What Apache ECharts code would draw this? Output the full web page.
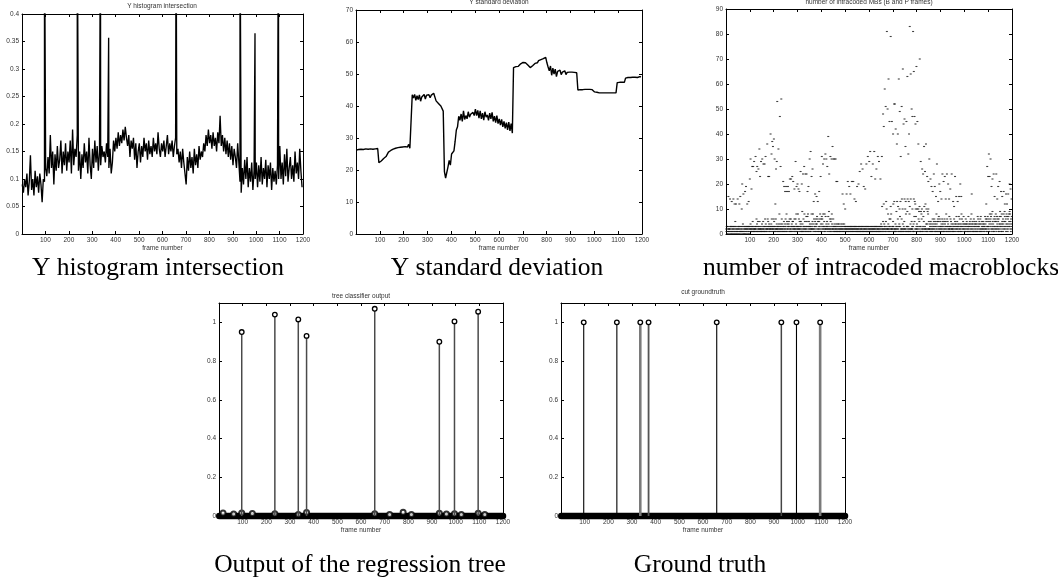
<!DOCTYPE html>
<html><head><meta charset="utf-8">
<script src="https://cdn.jsdelivr.net/npm/echarts@6/dist/echarts.min.js"></script>
<style>html,body{margin:0;padding:0;background:#fff}#c{width:1058px;height:579px}</style>
</head><body><div id="c"></div>
<script>
// ---------------- data ----------------
const cutFrames = [96, 236, 335, 370, 658, 931, 995, 1095];
const sampleStep = 5; // values below are read every 5 frames, starting at frame 1

const histValues = [
 0.09,0.075,0.10,0.085,0.11,0.07,0.095,0.143,0.08,0.10,0.07,0.115,0.085,0.105,0.075,0.11,0.09,0.058,0.10,0.095,
 0.12,0.105,0.14,0.11,0.18,0.12,0.15,0.09,0.145,0.115,0.16,0.12,0.135,0.17,0.11,0.15,0.125,0.165,0.115,0.15,
 0.13,0.17,0.11,0.19,0.125,0.155,0.14,0.18,0.115,0.15,0.10,0.145,0.12,0.165,0.13,0.15,0.11,0.175,0.125,0.10,
 0.155,0.12,0.17,0.13,0.16,0.115,0.15,0.125,0.16,0.14,0.15,0.13,0.165,0.14,0.12,0.155,0.11,0.13,0.17,0.15,
 0.175,0.155,0.185,0.16,0.18,0.165,0.19,0.17,0.195,0.175,0.16,0.18,0.14,0.17,0.155,0.175,0.135,0.165,0.12,0.15,
 0.165,0.13,0.16,0.14,0.175,0.15,0.165,0.135,0.17,0.145,0.16,0.14,0.175,0.15,0.165,0.145,0.185,0.155,0.14,0.165,
 0.15,0.17,0.14,0.16,0.18,0.145,0.165,0.15,0.17,0.14,0.16,0.175,0.145,0.155,0.13,0.15,0.12,0.155,0.13,0.11,
 0.09,0.14,0.115,0.15,0.12,0.14,0.11,0.155,0.125,0.145,0.12,0.16,0.135,0.15,0.14,0.165,0.15,0.18,0.16,0.19,
 0.165,0.18,0.155,0.185,0.16,0.175,0.15,0.185,0.165,0.215,0.16,0.18,0.15,0.175,0.145,0.17,0.14,0.165,0.135,0.16,
 0.125,0.155,0.14,0.12,0.165,0.13,0.095,0.075,0.12,0.09,0.135,0.10,0.14,0.085,0.12,0.095,0.13,0.08,0.115,0.10,
 0.13,0.085,0.125,0.095,0.14,0.09,0.12,0.10,0.135,0.085,0.125,0.10,0.13,0.08,0.12,0.095,0.115,0.09,0.125,0.10,
 0.16,0.10,0.13,0.09,0.145,0.105,0.155,0.095,0.12,0.14,0.10,0.125,0.095,0.15,0.11,0.13,0.10,0.155,0.115,0.085
];
const histCutPeaks = [0.6, 0.6, 0.6, 0.357, 0.6, 0.6, 0.365, 0.6];

const stdValues = [
 26.2,26.8,26.4,26.9,26.5,26.8,26.4,27,26.6,26.9,26.5,26.8,26.6,26.9,26.5,26.8,26.6,26.9,26.7,22.3,
 22.4,22.8,23.2,23.6,24.0,24.2,24.5,25.6,25.9,26.1,26.3,26.5,26.6,26.8,26.7,27.0,26.8,27.1,26.9,27.2,
 27.0,27.3,26.9,27.2,28.0,26.8,26.3,43.5,42.5,43.6,41.8,43.2,42.0,43.5,41.5,42.8,42.3,43.6,42.2,43.4,
 43.0,43.5,42.6,43.4,43.2,44.0,43.6,41.6,41.4,40.8,40.6,40.0,40.4,38.4,19.5,17.5,17.0,21.0,23.0,21.5,
 25.0,24.5,26.0,29.0,32.5,33.5,36.8,35.5,37.5,35.2,38.5,35.8,37.0,36.0,38.2,36.5,37.4,36.8,38.0,37.0,
 39.0,37.0,38.6,36.2,38.5,36.0,37.8,35.6,38.2,36.5,37.2,35.5,37.8,36.0,38.0,35.2,36.8,34.8,37.0,34.5,
 36.0,34.0,35.8,33.5,35.2,33.0,34.8,32.5,35.0,32.2,34.5,31.5,52.0,52.2,52.3,52.6,52.4,53.0,53.2,53.5,
 53.6,53.4,53.5,53.0,52.8,52.4,52.0,52.3,52.6,52.9,53.3,53.8,53.5,54.2,53.8,54.5,53.9,54.8,54.2,55.2,
 53.5,52.2,51.0,52.5,49.6,51.8,50.0,51.5,49.2,50.8,50.2,51.2,49.8,50.6,50.0,51.0,49.8,50.5,50.2,50.6,
 50.0,50.6,50.3,50.5,50.2,50.4,45.0,45.2,45.1,45.2,45.1,45.3,45.2,45.1,45.2,45.3,45.2,45.3,45.1,44.8,
 44.4,44.2,44.3,44.2,44.1,44.2,44.1,44.2,44.1,44.2,44.1,44.2,44.1,44.2,44.1,44.2,44.1,44.2,44.1,47.3,
 47.3,47.4,47.3,47.4,47.5,47.4,48.7,48.8,48.9,49.1,48.9,49.2,49.0,48.8,49.0,49.1,48.9,49.0,49.2,49.1
];

// intracoded MBs: one character per frame (base-36 digit = value), frames 1..1200
const mbLowRows = [
 "2130312031 2120213203 1302130213 2031203152 0312012130 2132031210 3121302131 4021302130 2213021320 2313021302",
 "3241213213 2531212132 1223312614 3125132213 5212132211 4132251213 3126134213 2122635231 4213221324 3612232316",
 "2513312261 2342213132 2418312234 1236214213 3251132426 3118254123 2345136212 1632143152 5321326132 2614832132",
 "3823162253 1245312119 4213612382 5132127351 3728131532 2413312284 2352812462 3135126431 4726152132 5163821416",
 "2736412823 3518212732 4235132274 1932261251 3628412236 2131423121 3241213142 1324112312 2143122314 1232141323",
 "2312132123 1321231213 2132312132 1231213213 2312132312 1213231213 3121321231 2313121321 1232131213 2131231312",
 "2131231213 2312132123 1213231213 3121321231 2131231213 4321b23152 2c14323211 5d2a321228 4123162316 b281223213",
 "5c321d2121 4123921d32 6b21134a17 3d12126e21 a4122315e2 2a1d812313 9e2131d218 b214e12252 3a21314e17 5d2c1a7232",
 "4a2131a629 5b31123918 6a21213725 9b1232c214 a2141928a2 5214232151 4132216143 2526314152 3184215163 5271216352",
 "3124136251 4321156243 2518312635 1432127231 3625143221 2413126314 5231427325 1342137142 6231413826 3142537241",
 "2134162435 1423127314 3251436218 4325141236 1534214315 2413172634 3152416271 4235123425 1342137246 2516312735",
 "3621418536 2748123952 4163127536 2851237462 3516214739 4273118452 3614825397 2536148273 4162738549 3825164273"
];
const mbHigh = [
 [10,15],[17,14],[24,13],[31,14],[36,12],[42,12],[49,14],[56,12],[60,15],[66,10],[68,20],[73,16],[80,17],[84,19],[89,12],[95,13],
 [100,22],[103,30],[107,18],[110,27],[114,27],[118,29],[124,31],[128,25],[131,27],[136,26],[140,34],[143,23],[147,29],[152,30],
 [157,28],[162,28],[166,31],[173,36],[177,23],[181,23],[187,40],[191,32],[194,37],[197,35],[201,38],[204,30],[207,12],[210,26],
 [213,29],[215,53],[220,34],[226,47],[229,27],[232,54],
 [240,21],[244,19],[248,17],[252,19],[256,17],[260,19],[264,17],[268,22],[273,22],[278,23],[282,21],[287,18],[292,29],[296,19],
 [300,20],[304,18],[308,17],[313,25],[318,20],[323,24],[328,27],[333,24],[338,24],[342,17],[346,19],[351,30],[355,33],[359,23],
 [363,26],[368,13],[374,16],[380,15],[385,13],[391,17],[397,23],[402,31],[407,28],[412,30],[417,32],[421,30],[425,27],[429,39],
 [433,24],[438,31],[443,30],[447,35],[451,30],[455,30],[460,30],[463,21],[467,21],
 [489,16],[494,12],[500,10],[506,16],[511,21],[517,19],[522,16],[528,21],[534,21],[539,14],[545,13],[550,19],[556,20],[561,25],
 [567,28],[573,26],[578,19],[584,18],[589,28],[595,31],[601,29],[605,33],[610,23],[616,28],[622,33],[626,22],[631,26],[637,31],
 [642,29],[648,22],[654,31],
 [659,48],[662,43],[666,58],[670,51],[675,81],[678,50],[682,62],[686,45],[691,79],[696,45],[701,40],[705,52],[709,52],[712,42],
 [717,36],[721,40],[725,62],[729,49],[733,31],[737,51],[742,66],[745,44],[749,46],[753,35],[757,45],[761,63],[765,32],[768,40],
 [771,83],[775,64],[779,50],[782,47],[785,81],[788,65],[791,47],[795,44],[799,67],[803,45],[807,36],[813,70],[817,29],[823,26],
 [827,24],[831,35],[835,25],[839,36],[844,23],[849,21],[853,30],[858,22],[862,19],[867,17],[872,24],[876,19],[881,15],[885,28],
 [890,13],[895,20],[899,17],[904,14],[908,24],[913,21],[918,23],[922,14],[927,24],[932,20],[936,14],[941,18],[947,24],[953,13],
 [957,11],[961,23],[966,15],[972,13],[978,15],[983,20],[987,15],
 [1031,16],[1092,12],[1096,27],[1100,23],[1103,32],[1106,23],[1110,30],[1114,19],[1118,22],[1123,24],[1127,15],[1134,24],
 [1138,14],[1142,19],[1148,21],[1154,17],[1159,15],[1165,17],[1170,12],[1175,16],[1179,12],[1184,16],[1190,20],[1194,18],[1198,14]
];

const treeCutValues = [0.95, 1.04, 1.015, 0.93, 1.07, 0.9, 1.005, 1.055];
const treeSmall = [[17,0.015],[62,0.01],[96,0.015],[141,0.013],[236,0.012],[335,0.008],[370,0.018],[658,0.012],
  [721,0.008],[778,0.02],[813,0.008],[931,0.014],[961,0.01],[995,0.012],[1024,0.008],[1095,0.014],[1123,0.008]];
const truthValues = [1, 1, 1, 1, 1, 1, 1, 1];
const zeroFrames = [1, 1200]; // all other frames are 0

const titles = ['Y histogram intersection', 'Y standard deviation', 'number of intracoded MBs (B and P frames)',
  'tree classifier output', 'cut groundtruth'];
const captions = ['Y histogram intersection', 'Y standard deviation', 'number of intracoded macroblocks',
  'Output of the regression tree', 'Ground truth'];
const xLabel = 'frame number';

// ---------------- build series data ----------------
const histData = histValues.map((v, i) => [1 + i * sampleStep, v])
  .concat(cutFrames.map((f, i) => [f, histCutPeaks[i]]))
  .sort((a, b) => a[0] - b[0]);
const stdData = stdValues.map((v, i) => [1 + i * sampleStep, v]);
const mbLow = mbLowRows.join('').replace(/ /g, '');
const mbData = [];
for (let i = 0; i < mbLow.length; i++) mbData.push([i + 1, parseInt(mbLow[i], 36)]);
mbHigh.forEach(p => mbData.push(p));
const treeStems = cutFrames.map((f, i) => [f, treeCutValues[i]]);
const truthStems = cutFrames.map((f, i) => [f, truthValues[i]]);
const zeroLine = zeroFrames.map(f => [f, 0]);

// ---------------- layout ----------------
const grids = [
  {left: 22, top: 14, width: 281, height: 220},
  {left: 356, top: 10, width: 286, height: 224},
  {left: 726, top: 9, width: 286, height: 225},
  {left: 219, top: 303, width: 284, height: 213},
  {left: 561, top: 303, width: 284, height: 213}
];
const yCfg = [
  {max: 0.4, interval: 0.05, fmt: v => String(+v.toFixed(2))},
  {max: 70, interval: 10, fmt: v => String(v)},
  {max: 90, interval: 10, fmt: v => String(v)},
  {max: 1.1, interval: 0.2, fmt: v => v > 1.05 ? '' : String(+v.toFixed(1))},
  {max: 1.1, interval: 0.2, fmt: v => v > 1.05 ? '' : String(+v.toFixed(1))}
];
const tickFont = 'Liberation Sans';
const axisLineStyle = {color: '#000', width: 1};
const xAxes = [], yAxes = [];
grids.forEach((g, i) => {
  xAxes.push({type: 'value', gridIndex: i, min: 0, max: 1200, interval: 100, position: 'bottom',
    axisLine: {show: true, onZero: false, lineStyle: axisLineStyle},
    axisTick: {show: true, inside: true, length: 3, lineStyle: axisLineStyle},
    axisLabel: {show: true, fontSize: 6.5, fontFamily: tickFont, color: '#333', margin: 3,
      formatter: v => v === 0 ? '' : String(v)},
    splitLine: {show: false},
    name: xLabel, nameLocation: 'middle', nameGap: 10,
    nameTextStyle: {fontSize: 6.5, fontFamily: tickFont, color: '#333'}});
  xAxes.push({type: 'value', gridIndex: i, min: 0, max: 1200, interval: 100, position: 'top',
    axisLine: {show: true, onZero: false, lineStyle: axisLineStyle},
    axisTick: {show: true, inside: true, length: 3, lineStyle: axisLineStyle},
    axisLabel: {show: false}, splitLine: {show: false}});
  const c = yCfg[i];
  yAxes.push({type: 'value', gridIndex: i, min: 0, max: c.max, interval: c.interval, position: 'left',
    axisLine: {show: true, onZero: false, lineStyle: axisLineStyle},
    axisTick: {show: true, inside: true, length: 3, lineStyle: axisLineStyle},
    axisLabel: {show: true, fontSize: 6.5, fontFamily: tickFont, color: '#333', margin: 3, formatter: c.fmt},
    splitLine: {show: false}});
  yAxes.push({type: 'value', gridIndex: i, min: 0, max: c.max, interval: c.interval, position: 'right',
    axisLine: {show: true, onZero: false, lineStyle: axisLineStyle},
    axisTick: {show: true, inside: true, length: 3, lineStyle: axisLineStyle},
    axisLabel: {show: false}, splitLine: {show: false}});
});

const thickStems = {335: {c: '#7a7a7a', w: 2.6}, 370: {c: '#555', w: 1.8}, 931: {c: '#444', w: 1.5}, 1095: {c: '#7a7a7a', w: 2.6}};
function stemRenderer(stemColor, stemWidth, useThick) {
  return function (params, api) {
    const x = api.value(0), y = api.value(1);
    const p0 = api.coord([x, 0]), p1 = api.coord([x, y]);
    let c = stemColor, w = stemWidth;
    if (useThick && thickStems[x]) { c = thickStems[x].c; w = thickStems[x].w; }
    return {type: 'group', children: [
      {type: 'line', shape: {x1: p0[0], y1: p0[1], x2: p1[0], y2: p1[1]}, style: {stroke: c, lineWidth: w}},
      {type: 'circle', shape: {cx: p1[0], cy: p1[1], r: 2.3}, style: {fill: '#fff', stroke: '#000', lineWidth: 1.3}}
    ]};
  };
}

const series = [
  {type: 'line', xAxisIndex: 0, yAxisIndex: 0, data: histData, showSymbol: false, clip: true,
    lineStyle: {color: '#000', width: 1.35}, silent: true},
  {type: 'line', xAxisIndex: 2, yAxisIndex: 2, data: stdData, showSymbol: false, clip: true,
    lineStyle: {color: '#000', width: 1.4}, silent: true},
  {type: 'scatter', xAxisIndex: 4, yAxisIndex: 4, data: mbData, symbol: 'rect', symbolSize: [2, 1.1],
    itemStyle: {color: '#111'}, silent: true},
  {type: 'line', xAxisIndex: 6, yAxisIndex: 6, data: zeroLine, showSymbol: false, clip: false, z: 1,
    lineStyle: {color: '#000', width: 6.5, cap: 'round'}, silent: true},
  {type: 'custom', xAxisIndex: 6, yAxisIndex: 6, data: treeStems, renderItem: stemRenderer('#4a4a4a', 1.5, false), z: 3, silent: true},
  {type: 'scatter', xAxisIndex: 6, yAxisIndex: 6, data: treeSmall, symbol: 'emptyCircle', symbolSize: 5, z: 2,
    itemStyle: {color: '#000', borderColor: '#000', borderWidth: 1.3}, silent: true},
  {type: 'line', xAxisIndex: 8, yAxisIndex: 8, data: zeroLine, showSymbol: false, clip: false, z: 1,
    lineStyle: {color: '#000', width: 6.5, cap: 'round'}, silent: true},
  {type: 'custom', xAxisIndex: 8, yAxisIndex: 8, data: truthStems, renderItem: stemRenderer('#000', 1.1, true), z: 3, silent: true}
];

const titlePos = [[162, 6], [499, 2], [869, 2], [361, 296], [703, 292]];
const captionPos = [[158, 268], [497, 268], [881, 268], [360, 565], [700, 565]];
const graphics = [];
titles.forEach((t, i) => graphics.push({type: 'text', x: titlePos[i][0], y: titlePos[i][1], silent: true,
  style: {text: t, font: '6.5px "Liberation Sans"', fill: '#333', align: 'center', verticalAlign: 'middle'}}));
captions.forEach((t, i) => graphics.push({type: 'text', x: captionPos[i][0], y: captionPos[i][1], silent: true,
  style: {text: t, font: '25.5px "Liberation Serif"', fill: '#000', align: 'center', verticalAlign: 'middle'}}));

const chart = echarts.init(document.getElementById('c'), null, {renderer: 'canvas'});
chart.setOption({
  animation: false,
  backgroundColor: '#fff',
  grid: grids.map(g => Object.assign({containLabel: false}, g)),
  xAxis: xAxes, yAxis: yAxes, series: series, graphic: graphics
});
</script></body></html>
